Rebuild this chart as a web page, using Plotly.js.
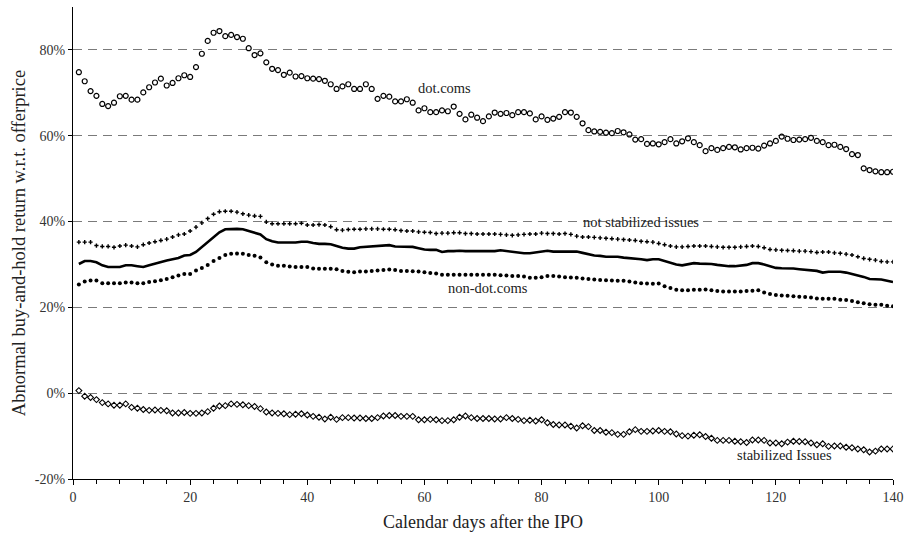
<!DOCTYPE html>
<html>
<head>
<meta charset="utf-8">
<script src="https://cdn.plot.ly/plotly-3.0.1.min.js"></script>
<style>
  html, body { margin: 0; padding: 0; background: #fff; }
  #chart { width: 904px; height: 537px; }
</style>
</head>
<body>
<div id="chart"></div>
<script>
// Calendar days after the IPO (1..140)
const days = Array.from({length: 140}, (_, i) => i + 1);

// Abnormal buy-and-hold return (%)
const dotComs = [
  74.8, 72.7, 70.4, 69.3, 67.4, 66.9, 67.7, 69.2, 69.3, 68.4,
  68.4, 70.1, 71.3, 72.4, 73.3, 71.7, 72.3, 73.4, 74.1, 73.7,
  76.0, 79.1, 82.1, 84.0, 84.4, 83.2, 83.5, 83.0, 82.6, 80.4,
  78.8, 79.2, 77.1, 75.6, 75.3, 74.2, 74.7, 73.8, 73.9, 73.4,
  73.3, 73.2, 72.8, 72.0, 70.9, 71.5, 72.0, 70.9, 70.9, 72.0,
  70.9, 68.6, 69.3, 69.1, 68.0, 68.0, 68.5, 67.7, 65.9, 66.4,
  65.5, 65.5, 65.9, 65.7, 66.8, 65.1, 63.8, 64.9, 64.2, 63.4,
  64.5, 65.4, 65.1, 65.3, 64.8, 65.5, 65.5, 65.2, 63.8, 64.5,
  63.7, 64.0, 64.4, 65.5, 65.4, 64.4, 62.9, 61.3, 61.0, 60.9,
  60.7, 60.6, 61.1, 60.8, 60.3, 59.1, 59.2, 58.1, 58.2, 58.0,
  58.5, 59.2, 58.2, 58.7, 59.4, 58.5, 57.8, 56.4, 57.1, 56.7,
  57.1, 57.4, 57.3, 56.8, 57.1, 57.2, 57.0, 57.7, 58.2, 58.8,
  59.8, 59.3, 59.0, 59.1, 59.2, 59.5, 58.8, 58.5, 57.8, 57.9,
  57.4, 56.9, 55.7, 55.5, 52.4, 52.0, 51.7, 51.5, 51.5, 51.6
];

const notStabilized = [
  35.2, 35.2, 35.2, 34.4, 34.2, 34.2, 34.0, 34.3, 34.5, 34.3,
  34.1, 34.6, 35.0, 35.3, 35.6, 35.9, 36.4, 36.9, 37.1, 37.8,
  38.7, 39.7, 40.7, 41.7, 42.3, 42.4, 42.4, 42.2, 41.8, 41.5,
  41.3, 41.2, 39.9, 39.5, 39.5, 39.5, 39.5, 39.5, 39.6, 39.2,
  39.2, 39.3, 39.2, 38.8, 38.1, 38.0, 38.15, 38.2, 38.2, 38.3,
  38.3, 38.3, 38.2, 38.2, 38.1, 37.9, 37.8, 37.8, 37.6, 37.5,
  37.45, 37.2, 37.3, 37.3, 37.4, 37.4, 37.2, 37.2, 37.1, 37.1,
  37.1, 37.1, 37.0, 36.9, 36.8, 36.9, 37.0, 37.1, 37.1, 37.3,
  37.2, 37.2, 37.1, 37.2, 37.0, 36.6, 36.4, 36.4, 36.3, 36.2,
  36.1, 36.0, 35.9, 35.8, 35.7, 35.6, 35.4, 35.3, 35.2, 34.9,
  34.6, 34.3, 34.1, 34.1, 34.2, 34.3, 34.3, 34.3, 34.2, 34.1,
  34.0, 34.0, 34.0, 34.1, 34.2, 34.3, 34.2, 33.9, 33.5, 33.4,
  33.3, 33.25, 33.2, 33.1, 33.1, 33.0, 32.8, 32.9, 32.9, 32.7,
  32.6, 32.4, 32.2, 31.8, 31.4, 31.2, 31.0, 30.7, 30.6, 30.6
];

const allIssues = [
  30.1, 30.8, 30.8, 30.5, 29.8, 29.4, 29.4, 29.4, 29.8, 29.8,
  29.6, 29.4, 29.8, 30.2, 30.5, 30.9, 31.2, 31.5, 32.1, 32.2,
  32.9, 34.0, 35.2, 36.4, 37.5, 38.2, 38.3, 38.3, 38.2, 37.8,
  37.5, 37.0, 35.9, 35.4, 35.1, 35.1, 35.1, 35.1, 35.3, 35.3,
  35.0, 34.8, 34.8, 34.7, 34.3, 33.9, 33.7, 33.7, 34.0, 34.1,
  34.2, 34.2, 34.3, 34.5, 34.2, 34.2, 34.1, 34.1, 33.8, 33.5,
  33.4, 33.4, 32.9, 33.1, 33.1, 33.2, 33.1, 33.1, 33.1, 33.1,
  33.1, 33.1, 33.3, 33.1, 33.0, 32.8, 32.6, 32.6, 32.8, 33.1,
  33.2, 33.0, 33.0, 33.1, 33.1, 33.0, 32.7, 32.4, 32.1, 32.0,
  31.8, 31.8, 31.8, 31.6, 31.5, 31.4, 31.2, 31.0, 31.2, 31.2,
  30.8, 30.3, 30.0, 29.8, 30.1, 30.3, 30.2, 30.2, 30.1, 29.9,
  29.7, 29.6, 29.6, 29.7, 29.9, 30.3, 30.3, 30.0, 29.6, 29.2,
  29.1, 29.1, 29.05, 28.9, 28.8, 28.6, 28.5, 28.1, 28.3, 28.3,
  28.3, 28.1, 27.8, 27.5, 27.1, 26.6, 26.6, 26.5, 26.2, 25.9
];

const nonDotComs = [
  25.3, 26.0, 26.25, 26.25, 25.6, 25.6, 25.6, 25.6, 25.8, 25.8,
  25.6, 25.6, 25.9, 26.1, 26.3, 26.6, 27.0, 27.4, 27.8, 27.8,
  28.6, 29.2, 29.9, 30.8, 31.5, 32.2, 32.5, 32.55, 32.5, 32.2,
  32.0, 31.6, 30.5, 30.0, 29.7, 29.7, 29.5, 29.4, 29.4, 29.4,
  29.05, 29.0, 29.0, 29.0, 28.9, 28.5, 28.3, 28.2, 28.35, 28.35,
  28.5, 28.6, 28.7, 28.8, 28.7, 28.5, 28.5, 28.4, 28.35, 28.2,
  28.0, 27.9, 27.6, 27.6, 27.6, 27.6, 27.6, 27.6, 27.6, 27.6,
  27.6, 27.6, 27.5, 27.4, 27.3, 27.3, 27.2, 26.9, 26.9, 27.0,
  27.3, 27.3, 27.2, 27.0, 26.95, 26.9, 26.7, 26.6, 26.5, 26.4,
  26.3, 26.25, 26.2, 26.2, 26.0, 25.8, 25.6, 25.55, 25.5, 25.55,
  24.9, 24.5, 24.1, 24.0, 24.0, 24.1, 24.1, 24.15, 24.0, 23.8,
  23.7, 23.7, 23.7, 23.7, 23.8, 23.9, 24.0, 23.45, 23.1, 22.9,
  22.75, 22.7, 22.6, 22.5, 22.4, 22.3, 22.05, 22.0, 22.0, 22.0,
  21.8, 21.7, 21.5, 21.2, 20.95, 20.7, 20.6, 20.6, 20.4, 20.25
];

const stabilized = [
  0.6, -0.7, -1.0, -1.5, -2.2, -2.5, -2.8, -2.8, -2.5, -3.3,
  -3.5, -3.8, -4.0, -3.9, -4.0, -4.1, -4.6, -4.6, -4.5, -4.7,
  -4.7, -4.6, -4.3, -3.5, -3.0, -2.9, -2.5, -2.6, -2.7, -2.9,
  -3.1, -3.6, -4.4, -4.6, -4.7, -4.8, -5.0, -4.9, -4.8, -5.1,
  -5.4, -5.6, -6.0, -5.6, -6.1, -5.7, -5.7, -5.8, -5.8, -5.9,
  -5.9, -5.7, -5.3, -5.2, -5.2, -5.4, -5.4, -5.4, -6.2, -6.2,
  -6.1, -6.2, -6.4, -6.4, -6.2, -5.6, -5.3, -5.7, -5.9, -5.9,
  -5.9, -6.0, -6.0, -5.7, -5.9, -6.1, -6.4, -6.3, -6.5, -6.2,
  -6.9, -7.3, -7.4, -7.4, -7.7, -8.1, -7.6, -7.8, -8.7, -8.7,
  -9.1, -9.2, -9.6, -9.6, -9.0, -8.5, -8.9, -8.9, -8.8, -8.7,
  -8.9, -9.0, -9.5, -9.9, -10.0, -9.8, -9.7, -10.1, -10.5, -11.0,
  -11.0, -11.0, -11.2, -11.3, -11.5, -10.9, -10.9, -11.0, -11.6, -11.6,
  -11.8, -11.4, -11.2, -11.25, -11.3, -11.6, -12.0, -11.8, -12.4, -12.3,
  -12.3, -12.6, -12.7, -13.0, -13.2, -13.7, -13.5, -13.0, -13.0, -13.0
];

// Axis ticks and labels
const yTickVals = [-20, 0, 20, 40, 60, 80];
const yTickText = ['-20%', '0%', '20%', '40%', '60%', '80%'];
const xTickVals = [0, 20, 40, 60, 80, 100, 120, 140];
const xTickText = ['0', '20', '40', '60', '80', '100', '120', '140'];

// Series labels drawn inside the plot
const labelText = ['dot.coms', 'not stabilized issues', 'non-dot.coms', 'stabilized Issues'];
const labelX = [63.5, 96.9, 70.8, 121.4];
const labelY = [71.2, 39.8, 24.5, -14.3];

const SERIF = '"Liberation Serif", "Times New Roman", Times, serif';

const traces = [
  { x: days, y: dotComs, mode: 'markers', type: 'scatter', name: 'dot.coms',
    marker: { symbol: 'circle-open', size: 5, color: '#000', line: { width: 1.2, color: '#000' } } },
  { x: days, y: notStabilized, mode: 'markers', type: 'scatter', name: 'not stabilized issues',
    marker: { symbol: 'cross', size: 3.5, color: '#000', line: { width: 0 } } },
  { x: days, y: allIssues, mode: 'lines', type: 'scatter', name: 'all issues',
    line: { color: '#000', width: 2.6 } },
  { x: days, y: nonDotComs, mode: 'markers', type: 'scatter', name: 'non-dot.coms',
    marker: { symbol: 'circle', size: 4, color: '#000' } },
  { x: days, y: stabilized, mode: 'markers', type: 'scatter', name: 'stabilized Issues',
    marker: { symbol: 'diamond-open', size: 4.5, color: '#000', line: { width: 1.1, color: '#000' } } }
];

const annotations = labelText.map((t, i) => ({
  x: labelX[i], y: labelY[i], xref: 'x', yref: 'y', text: t, showarrow: false,
  font: { family: SERIF, size: 14.5, color: '#222' }
}));

const layout = {
  width: 904, height: 537,
  margin: { l: 73, r: 11, t: 7, b: 58, pad: 0 },
  paper_bgcolor: '#fff', plot_bgcolor: '#fff',
  showlegend: false,
  font: { family: SERIF, color: '#333' },
  xaxis: {
    range: [0, 140], showline: true, linecolor: '#000', linewidth: 1,
    showgrid: false, zeroline: false,
    tickmode: 'array', tickvals: xTickVals, ticktext: xTickText,
    ticklabeloverflow: 'allow',
    ticks: 'outside', ticklen: 5, tickcolor: '#000', tickwidth: 1,
    minor: { dtick: 4, tick0: 0, ticks: 'outside', ticklen: 4, tickcolor: '#000', showgrid: false },
    tickfont: { family: SERIF, size: 14, color: '#333' },
    title: { text: 'Calendar days after the IPO', font: { family: SERIF, size: 18, color: '#222' }, standoff: 11 }
  },
  yaxis: {
    range: [-20, 90], showline: true, linecolor: '#000', linewidth: 1,
    zeroline: false,
    tickmode: 'array', tickvals: yTickVals, ticktext: yTickText,
    ticks: 'outside', ticklen: 4, tickcolor: '#000', tickwidth: 1,
    showgrid: true, gridcolor: '#7a7a7a', gridwidth: 1, griddash: '9px,6px',
    tickfont: { family: SERIF, size: 14, color: '#333' },
    title: { text: 'Abnormal buy-and-hold return w.r.t. offerprice', font: { family: SERIF, size: 18.5, color: '#222' }, standoff: 4 }
  },
  annotations: annotations
};

Plotly.newPlot('chart', traces, layout, { displayModeBar: false, staticPlot: true });
</script>
</body>
</html>
